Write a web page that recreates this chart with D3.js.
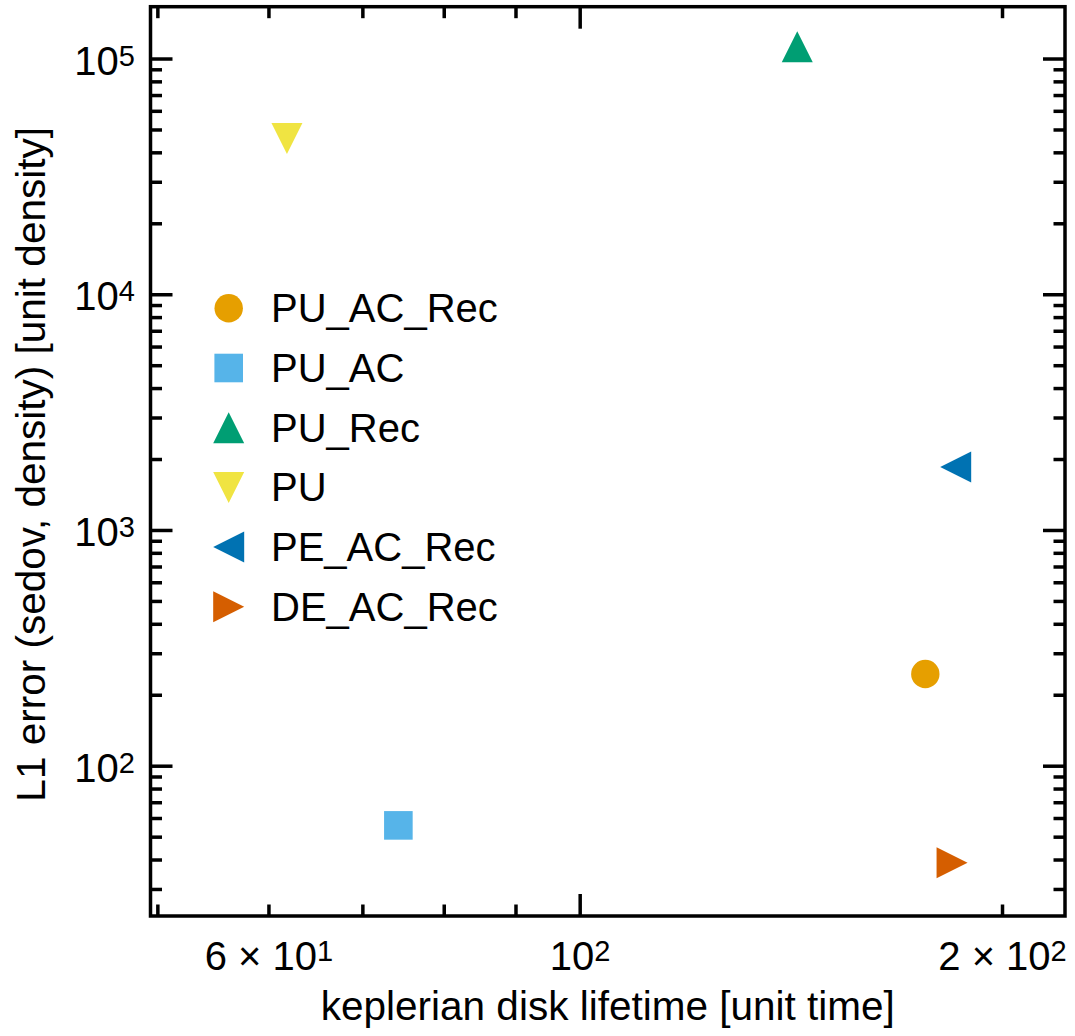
<!DOCTYPE html>
<html>
<head>
<meta charset="utf-8">
<script src="https://cdn.jsdelivr.net/npm/d3@7"></script>
<style>
  html, body { margin: 0; padding: 0; background: #fff; }
  svg { display: block; }
  text { font-family: "Liberation Sans", Arial, Helvetica, sans-serif; fill: #000; }
</style>
</head>
<body>
<script>
// Methods compared: name, lifetime, L1 error, marker and colour
const methods   = ["PU_AC_Rec", "PU_AC", "PU_Rec", "PU", "PE_AC_Rec", "DE_AC_Rec"];
const lifetimes = [176.2, 74.2, 142.8, 61.8, 185.2, 184.1];
const l1Errors  = [246, 56.1, 112700, 45980, 1860, 38.9];
const markers   = ["circle", "square", "triUp", "triDown", "triLeft", "triRight"];
const colors    = ["#E69F00", "#56B4E9", "#009E73", "#F0E442", "#0072B2", "#D55E00"];

// Axis ticks
const xMajorTicks = [100];
const xMinorTicks = [50, 60, 70, 80, 90, 200];
const xTickLabels = [[60, "6", "1"], [100, null, "2"], [200, "2", "2"]];
const yMajorTicks = [1e2, 1e3, 1e4, 1e5];
const yTickLabels = [[1e2, "2"], [1e3, "3"], [1e4, "4"], [1e5, "5"]];

const W = 1075, H = 1036;
const box = { left: 150.5, right: 1065, top: 6.7, bottom: 916 };

const svg = d3.select("body").append("svg").attr("width", W).attr("height", H);

const x = d3.scaleLog().domain([49.4, 221.6]).range([box.left, box.right]);
const y = d3.scaleLog().domain([23.15, 166700]).range([box.bottom, box.top]);

// minor ticks on the log y axis: 2..9 x 10^k inside the domain
const yMinorTicks = y.ticks().filter(v => !yMajorTicks.includes(v) && Math.abs(Math.log10(v) % 1) > 1e-9);

const TICK_W = 3.5, MAJ = 22, MIN = 11.5;
const ticks = svg.append("g").attr("stroke", "#000").attr("stroke-width", TICK_W);

function hTicks(vals, len) {
  vals.forEach(v => {
    const yy = y(v);
    ticks.append("line").attr("x1", box.left).attr("x2", box.left + len).attr("y1", yy).attr("y2", yy);
    ticks.append("line").attr("x1", box.right).attr("x2", box.right - len).attr("y1", yy).attr("y2", yy);
  });
}
function vTicks(vals, len) {
  vals.forEach(v => {
    const xx = x(v);
    ticks.append("line").attr("y1", box.bottom).attr("y2", box.bottom - len).attr("x1", xx).attr("x2", xx);
    ticks.append("line").attr("y1", box.top).attr("y2", box.top + len).attr("x1", xx).attr("x2", xx);
  });
}
hTicks(yMajorTicks, MAJ);
hTicks(yMinorTicks, MIN);
vTicks(xMajorTicks, MAJ);
vTicks(xMinorTicks, MIN);

// frame
svg.append("rect")
  .attr("x", box.left).attr("y", box.top)
  .attr("width", box.right - box.left).attr("height", box.bottom - box.top)
  .attr("fill", "none").attr("stroke", "#000").attr("stroke-width", 3.5);

const FS = 40, SUP = 29;

// y tick labels: 10^k
yTickLabels.forEach(([v, e]) => {
  const t = svg.append("text")
    .attr("x", 135).attr("y", y(v) + 15.5)
    .attr("text-anchor", "end").attr("font-size", FS);
  t.append("tspan").text("10");
  t.append("tspan").attr("font-size", SUP).attr("dy", -9).text(e);
});

// x tick labels: m x 10^k
xTickLabels.forEach(([v, m, e]) => {
  const t = svg.append("text")
    .attr("x", x(v)).attr("y", 970)
    .attr("text-anchor", "middle").attr("font-size", FS);
  t.append("tspan").text(m ? m + " × 10" : "10");
  t.append("tspan").attr("font-size", SUP).attr("dy", -9).text(e);
});

// axis titles
svg.append("text")
  .attr("x", (box.left + box.right) / 2).attr("y", 1020)
  .attr("text-anchor", "middle").attr("font-size", 40.5)
  .text("keplerian disk lifetime [unit time]");

svg.append("text")
  .attr("transform", `translate(45,${(box.top + box.bottom) / 2 + 3}) rotate(-90)`)
  .attr("text-anchor", "middle").attr("font-size", 40.5)
  .text("L1 error (sedov, density) [unit density]");

// marker shapes (half-size h)
function markerPath(kind, h) {
  switch (kind) {
    case "circle": {
      const p = d3.path(); p.arc(0, 0, h, 0, 2 * Math.PI); p.closePath(); return p.toString();
    }
    case "square":  return `M${-h},${-h}H${h}V${h}H${-h}Z`;
    case "triUp":   return `M0,${-h}L${h},${h}L${-h},${h}Z`;
    case "triDown": return `M0,${h}L${h},${-h}L${-h},${-h}Z`;
    case "triLeft": return `M${-h},0L${h},${-h}L${h},${h}Z`;
    case "triRight":return `M${h},0L${-h},${-h}L${-h},${h}Z`;
  }
}
const halfSize = { circle: 14.2, square: 14.3, triUp: 15.5, triDown: 15.5, triLeft: 15.5, triRight: 15.5 };

// data points
svg.append("g").selectAll("path")
  .data(methods.map((m, i) => ({ m, i })))
  .join("path")
  .attr("transform", d => `translate(${x(lifetimes[d.i])},${y(l1Errors[d.i])})`)
  .attr("d", d => markerPath(markers[d.i], halfSize[markers[d.i]]))
  .attr("fill", d => colors[d.i]);

// legend
const leg = svg.append("g");
const legX = 228.7, legY0 = 308.3, legDy = 59.7;
methods.forEach((m, i) => {
  const cy = legY0 + i * legDy;
  leg.append("path")
    .attr("transform", `translate(${legX},${cy})`)
    .attr("d", markerPath(markers[i], halfSize[markers[i]]))
    .attr("fill", colors[i]);
  leg.append("text")
    .attr("x", 271).attr("y", cy + 14)
    .attr("font-size", FS).text(m);
});
</script>
</body>
</html>
